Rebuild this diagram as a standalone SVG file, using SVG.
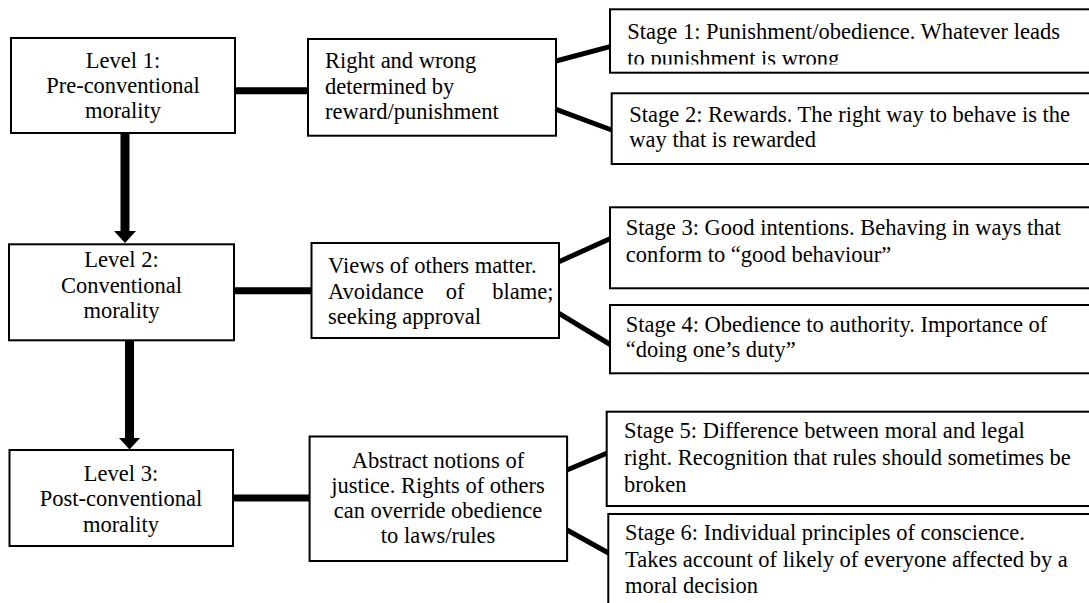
<svg xmlns="http://www.w3.org/2000/svg" width="1089" height="603" viewBox="0 0 1089 603">
<style>
  .box { fill: #ffffff; stroke: #000000; stroke-width: 2; }
  .t { font-family: "Liberation Serif", "Times New Roman", serif; font-size: 22.5px; fill: #000000; }
  .c { text-anchor: middle; }
  .h { stroke: #000000; stroke-width: 7; fill: none; }
  .d { stroke: #000000; stroke-width: 5; fill: none; }
  .v { stroke: #000000; stroke-width: 9; fill: none; marker-end: url(#head); }
</style>
<defs>
  <marker id="head" markerUnits="userSpaceOnUse" markerWidth="12" markerHeight="22" viewBox="0 0 12 22" refX="0.5" refY="11" orient="auto">
    <path d="M0,0 L12,11 L0,22 Z" fill="#000000"/>
  </marker>
  <clipPath id="clip1"><rect x="610" y="9" width="480" height="55.5"/></clipPath>
</defs>
<rect width="1089" height="603" fill="#ffffff"/>

<g id="connectors">
  <line class="h" x1="234" y1="90.8" x2="309" y2="90.8"/>
  <line class="h" x1="234" y1="290.8" x2="312" y2="290.8"/>
  <line class="h" x1="233" y1="498" x2="310" y2="498"/>
  <line class="v" x1="125" y1="133" x2="125" y2="231.5"/>
  <line class="v" x1="129.5" y1="340" x2="129.5" y2="438"/>
  <line class="d" x1="556" y1="61" x2="610" y2="46.7"/>
  <line class="d" x1="556" y1="109.3" x2="611.7" y2="130"/>
  <line class="d" x1="559" y1="261.7" x2="611" y2="238.3"/>
  <line class="d" x1="559" y1="313.3" x2="611" y2="345"/>
  <line class="d" x1="567" y1="470" x2="606.7" y2="453.3"/>
  <line class="d" x1="567" y1="530" x2="609" y2="553.3"/>
</g>

<g id="level1">
  <rect class="box" x="11" y="38" width="224" height="95"/>
  <text class="t c" x="123" y="67.5">Level 1:</text>
  <text class="t c" x="123" y="92.7">Pre-conventional</text>
  <text class="t c" x="123" y="118">morality</text>
</g>
<g id="level2">
  <rect class="box" x="9" y="244.3" width="225" height="96"/>
  <text class="t c" x="121.5" y="267">Level 2:</text>
  <text class="t c" x="121.5" y="292.5">Conventional</text>
  <text class="t c" x="121.5" y="318">morality</text>
</g>
<g id="level3">
  <rect class="box" x="9.5" y="450" width="223.5" height="96"/>
  <text class="t c" x="121" y="481">Level 3:</text>
  <text class="t c" x="121" y="506">Post-conventional</text>
  <text class="t c" x="121" y="531.5">morality</text>
</g>

<g id="desc1">
  <rect class="box" x="308" y="39" width="248" height="96.7"/>
  <text class="t" x="325" y="68.3">Right and wrong</text>
  <text class="t" x="325" y="94">determined by</text>
  <text class="t" x="325" y="119">reward/punishment</text>
</g>
<g id="desc2">
  <rect class="box" x="311.5" y="243" width="247.5" height="95"/>
  <text class="t" x="328" y="273.3">Views of others matter.</text>
  <text class="t" y="299"><tspan x="328">Avoidance</tspan><tspan x="445.7">of</tspan><tspan x="492.3">blame;</tspan></text>
  <text class="t" x="328" y="324.3">seeking approval</text>
</g>
<g id="desc3">
  <rect class="box" x="309.6" y="436.5" width="257.5" height="124.5"/>
  <text class="t c" x="438" y="468.3">Abstract notions of</text>
  <text class="t c" x="438" y="493.3">justice. Rights of others</text>
  <text class="t c" x="438" y="518.3">can override obedience</text>
  <text class="t c" x="438" y="543.3">to laws/rules</text>
</g>

<g id="stage1">
  <rect class="box" x="610" y="9.3" width="490" height="63.4"/>
  <g clip-path="url(#clip1)">
    <text class="t" x="627.3" y="39.3">Stage 1: Punishment/obedience. Whatever leads</text>
    <text class="t" x="627.3" y="66">to punishment is wrong</text>
  </g>
</g>
<g id="stage2">
  <rect class="box" x="611.7" y="93.3" width="490" height="70.7"/>
  <text class="t" x="629.3" y="121.7">Stage 2: Rewards. The right way to behave is the</text>
  <text class="t" x="629.3" y="146.7">way that is rewarded</text>
</g>
<g id="stage3">
  <rect class="box" x="610" y="207.3" width="490" height="81"/>
  <text class="t" x="625.8" y="235">Stage 3: Good intentions. Behaving in ways that</text>
  <text class="t" x="625.8" y="261.7">conform to “good behaviour”</text>
</g>
<g id="stage4">
  <rect class="box" x="610" y="305" width="490" height="68.3"/>
  <text class="t" x="625.8" y="331.7">Stage 4: Obedience to authority. Importance of</text>
  <text class="t" x="625.8" y="356.7">“doing one’s duty”</text>
</g>
<g id="stage5">
  <rect class="box" x="606.7" y="411.7" width="490" height="94.3"/>
  <text class="t" x="624" y="438.3">Stage 5: Difference between moral and legal</text>
  <text class="t" x="624" y="465">right. Recognition that rules should sometimes be</text>
  <text class="t" x="624" y="491.7">broken</text>
</g>
<g id="stage6">
  <rect class="box" x="608.3" y="514" width="490" height="100"/>
  <text class="t" x="625" y="540">Stage 6: Individual principles of conscience.</text>
  <text class="t" x="625" y="566.7">Takes account of likely of everyone affected by a</text>
  <text class="t" x="625" y="593.3">moral decision</text>
</g>
</svg>
